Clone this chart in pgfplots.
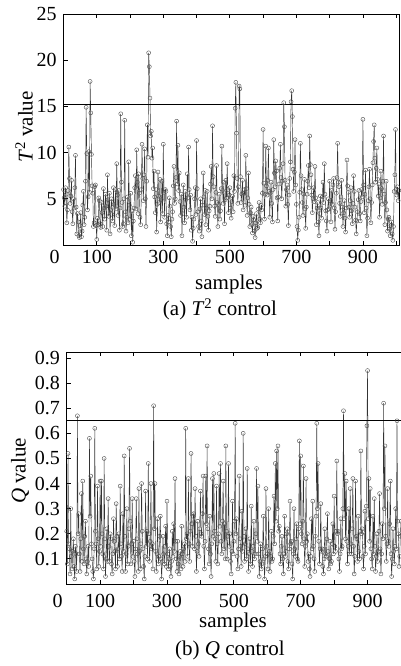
\documentclass[border=0pt]{standalone}
\usepackage{fontspec}
\setmainfont{Liberation Serif}
\usepackage{graphicx}
\usepackage{pgfplots}
\pgfplotsset{compat=1.18}
\begin{document}
\fontsize{20}{24}\selectfont
\begin{tikzpicture}
\useasboundingbox (0,0) rectangle (400pt,666pt);
\pgfplotsset{
  every axis/.append style={
    scale only axis,
    font=\fontsize{20}{24}\selectfont,
    /pgf/number format/assume math mode=true,
    axis line style={line width=0.8pt},
    tick align=inside,
    major tick length=4pt,
    tick style={line width=0.8pt, black},
    xtick pos=both, ytick pos=left,
    clip=true,
  },
  datastyle/.style={black!80, line width=0.45pt, mark=o, mark size=2pt,
    mark options={black!70, line width=0.4pt, solid}},
}
% ---------- (a) T^2 ----------
\begin{axis}[at={(63.5pt,421pt)}, anchor=south west,
  width=336pt, height=231pt,
  xmin=0, xmax=1010, ymin=0, ymax=25,
  ytick={5,10,15,20,25}, yticklabels={5,10,15,20,25},
  xtick={0,100,...,1000},
  xticklabels={\makebox[0pt][r]{0\hspace{4pt}},100,,300,,500,,700,,900,},
  xticklabel style={yshift=2pt},
]
\addplot[datastyle] coordinates {
(0,6.0)(2,5.1)(4,4.2)(6,6.2)(8,5.5)(10,2.4)(12,3.8)(14,5.9)(16,10.6)(18,7.2)(20,4.5)(22,5.3)(24,7.0)(26,3.6)(28,2.3)(30,5.0)(32,4.0)(34,6.2)(36,9.7)(38,4.1)(40,1.2)(42,3.4)(44,2.5)(46,1.0)(48,0.8)(50,2.1)(52,3.5)(54,0.9)(56,1.5)(58,4.3)(60,5.8)(62,2.2)(64,3.0)(66,6.9)(68,14.9)(70,9.9)(72,3.8)(74,5.2)(76,10.1)(78,5.7)(80,17.7)(82,14.3)(84,9.8)(86,6.4)(88,5.6)(90,2.0)(92,2.4)(94,6.3)(96,6.5)(98,2.1)
(100,0.6)(102,2.9)(104,2.2)(106,5.1)(108,4.8)(110,2.3)(112,1.9)(114,4.6)(116,3.5)(118,2.0)(120,6.1)(122,4.0)(124,2.8)(126,5.5)(128,4.2)(130,1.6)(132,7.6)(134,4.9)(136,3.1)(138,5.6)(140,1.2)(142,3.8)(144,5.0)(146,3.3)(148,2.6)(150,6.2)(152,4.4)(154,2.1)(156,6.0)(158,3.9)(160,8.8)(162,5.4)(164,3.2)(166,5.9)(168,1.6)(170,4.0)(172,14.2)(174,6.8)(176,4.6)(178,2.0)(180,2.3)(182,5.0)(184,13.5)(186,3.6)(188,1.5)(190,3.0)(192,5.2)(194,2.4)(196,9.0)(198,4.3)
(200,2.8)(202,5.6)(204,1.0)(206,3.7)(208,0.3)(210,2.6)(212,4.0)(214,6.2)(216,7.5)(218,3.9)(220,10.3)(222,6.8)(224,3.4)(226,7.7)(228,5.6)(230,3.0)(232,2.2)(234,6.0)(236,10.9)(238,7.2)(240,4.8)(242,7.6)(244,10.4)(246,5.0)(248,2.0)(250,6.9)(252,13.0)(254,9.5)(256,20.8)(258,19.3)(260,15.9)(262,11.8)(264,12.3)(266,9.4)(268,10.5)(270,6.1)(272,8.0)(274,5.2)(276,3.5)(278,6.0)(280,1.4)(282,4.4)(284,7.9)(286,5.3)(288,4.6)(290,7.1)(292,2.5)(294,4.9)(296,6.9)(298,3.4)
(300,10.9)(302,5.7)(304,3.0)(306,6.0)(308,5.8)(310,2.3)(312,1.0)(314,3.2)(316,2.5)(318,5.1)(320,4.2)(322,2.0)(324,0.9)(326,2.8)(328,3.6)(330,6.4)(332,8.5)(334,4.5)(336,5.0)(338,7.3)(340,13.4)(342,6.6)(344,10.8)(346,5.9)(348,7.8)(350,4.7)(352,3.2)(354,5.5)(356,1.0)(358,3.4)(360,6.5)(362,4.1)(364,2.4)(366,5.8)(368,4.9)(370,3.0)(372,7.7)(374,5.1)(376,10.6)(378,6.0)(380,3.8)(382,5.4)(384,1.6)(386,3.0)(388,0.4)(390,1.8)(392,2.8)(394,5.0)(396,6.2)(398,3.3)
(400,11.3)(402,6.1)(404,3.6)(406,2.0)(408,1.5)(410,3.9)(412,5.0)(414,2.6)(416,0.9)(418,4.3)(420,7.8)(422,5.2)(424,3.3)(426,5.9)(428,2.2)(430,4.0)(432,5.8)(434,3.1)(436,1.6)(438,3.7)(440,4.2)(442,6.6)(444,8.5)(446,5.0)(448,12.9)(450,7.4)(452,6.3)(454,4.2)(456,3.1)(458,5.7)(460,8.6)(462,4.6)(464,2.0)(466,4.4)(468,5.5)(470,2.8)(472,3.7)(474,6.1)(476,10.7)(478,5.9)(480,4.5)(482,6.8)(484,2.3)(486,4.9)(488,7.0)(490,5.1)(492,8.8)(494,6.0)(496,3.5)(498,5.4)
(500,6.2)(502,4.0)(504,2.9)(506,4.7)(508,5.3)(510,3.6)(512,7.5)(514,5.8)(516,14.8)(518,17.6)(520,12.1)(522,7.2)(524,4.5)(526,6.3)(528,17.2)(530,16.9)(532,7.4)(534,4.6)(536,5.5)(538,7.0)(540,3.8)(542,5.6)(544,6.0)(546,4.3)(548,9.7)(550,6.1)(552,3.2)(554,5.1)(556,7.8)(558,4.4)(560,2.0)(562,3.5)(564,4.1)(566,2.2)(568,1.3)(570,3.1)(572,2.7)(574,1.5)(576,0.8)(578,2.4)(580,3.4)(582,1.8)(584,1.9)(586,3.9)(588,4.6)(590,2.8)(592,2.4)(594,4.3)(596,3.8)(598,5.6)
(600,12.5)(602,6.7)(604,2.8)(606,5.5)(608,10.7)(610,6.4)(612,5.4)(614,7.0)(616,10.5)(618,5.8)(620,3.0)(622,5.6)(624,6.8)(626,4.5)(628,2.5)(630,6.0)(632,11.4)(634,7.8)(636,6.3)(638,9.1)(640,8.0)(642,5.1)(644,2.6)(646,5.2)(648,6.6)(650,8.3)(652,10.9)(654,7.3)(656,5.0)(658,6.9)(660,8.8)(662,15.4)(664,12.8)(666,7.0)(668,4.2)(670,6.0)(672,6.5)(674,4.4)(676,2.1)(678,5.4)(680,7.2)(682,9.0)(684,15.5)(686,16.7)(688,13.9)(690,8.2)(692,5.8)(694,7.9)(696,11.4)(698,6.5)
(700,4.4)(702,2.0)(704,0.5)(706,1.6)(708,3.0)(710,5.7)(712,11.0)(714,7.5)(716,6.0)(718,4.6)(720,3.2)(722,5.5)(724,7.1)(726,3.9)(728,1.8)(730,4.1)(732,5.5)(734,6.9)(736,8.6)(738,6.2)(740,11.8)(742,8.7)(744,7.6)(746,5.4)(748,3.5)(750,5.0)(752,6.2)(754,4.7)(756,8.5)(758,5.1)(760,2.2)(762,4.0)(764,4.6)(766,2.5)(768,1.0)(770,3.4)(772,5.3)(774,4.0)(776,2.9)(778,5.2)(780,6.8)(782,4.6)(784,8.8)(786,5.5)(788,3.7)(790,2.6)(792,1.5)(794,3.8)(796,5.0)(798,3.9)
(800,6.9)(802,4.8)(804,2.5)(806,5.9)(808,4.4)(810,6.5)(812,7.2)(814,4.0)(816,1.7)(818,3.6)(820,5.6)(822,7.3)(824,11.0)(826,6.8)(828,6.3)(830,4.5)(832,3.1)(834,5.2)(836,7.0)(838,4.1)(840,2.0)(842,3.5)(844,4.8)(846,2.9)(848,1.4)(850,4.0)(852,9.2)(854,6.4)(856,5.7)(858,4.1)(860,3.0)(862,4.8)(864,6.2)(866,3.7)(868,2.3)(870,4.5)(872,7.5)(874,5.8)(876,4.1)(878,2.7)(880,1.2)(882,2.6)(884,3.6)(886,4.9)(888,5.9)(890,3.4)(892,2.6)(894,4.7)(896,6.0)(898,5.2)
(900,13.6)(902,6.5)(904,3.5)(906,5.5)(908,8.1)(910,4.0)(912,1.0)(914,2.9)(916,4.8)(918,6.3)(920,8.2)(922,5.0)(924,2.4)(926,4.6)(928,6.5)(930,8.9)(932,11.2)(934,13.0)(936,9.4)(938,6.8)(940,8.3)(942,10.5)(944,7.1)(946,5.3)(948,6.6)(950,3.0)(952,5.1)(954,8.0)(956,6.1)(958,4.4)(960,6.9)(962,11.8)(964,5.5)(966,2.2)(968,4.6)(970,6.9)(972,3.8)(974,1.5)(976,2.8)(978,3.0)(980,1.7)(982,1.0)(984,2.1)(986,2.5)(988,1.2)(990,0.5)(992,2.0)(994,5.8)(996,7.6)(998,12.5)(1000,6.0)(1002,5.4)(1004,6.3)(1006,4.8)(1008,5.9)
};
\addplot[black, line width=0.8pt] coordinates {(0,15.25)(1010,15.25)};
\end{axis}
% ---------- (b) Q ----------
\begin{axis}[at={(66.7pt,82pt)}, anchor=south west,
  width=334.3pt, height=232pt,
  xmin=0, xmax=1000, ymin=0, ymax=0.924,
  ytick={0.1,0.2,0.3,0.4,0.5,0.6,0.7,0.8,0.9},
  yticklabels={0.1,0.2,0.3,0.4,0.5,0.6,0.7,0.8,0.9},
  xtick={0,100,...,1000},
  xticklabels={\makebox[0pt][r]{0\hspace{4pt}},100,,300,,500,,700,,900,},
  xticklabel style={yshift=-3pt},
]
\addplot[datastyle] coordinates {
(0,0.21)(2,0.08)(4,0.52)(6,0.16)(8,0.14)(10,0.04)(12,0.30)(14,0.11)(16,0.06)(18,0.13)(20,0.18)(22,0.07)(24,0.02)(26,0.15)(28,0.12)(30,0.05)(32,0.67)(34,0.20)(36,0.28)(38,0.12)(40,0.05)(42,0.18)(44,0.36)(46,0.09)(48,0.41)(50,0.14)(52,0.08)(54,0.19)(56,0.25)(58,0.10)(60,0.04)(62,0.09)(64,0.15)(66,0.07)(68,0.58)(70,0.27)(72,0.43)(74,0.16)(76,0.10)(78,0.05)(80,0.02)(82,0.14)(84,0.62)(86,0.21)(88,0.16)(90,0.06)(92,0.39)(94,0.18)(96,0.07)(98,0.13)
(100,0.41)(102,0.15)(104,0.41)(106,0.20)(108,0.12)(110,0.06)(112,0.50)(114,0.18)(116,0.03)(118,0.10)(120,0.22)(122,0.09)(124,0.34)(126,0.15)(128,0.09)(130,0.20)(132,0.18)(134,0.08)(136,0.04)(138,0.12)(140,0.26)(142,0.17)(144,0.13)(146,0.06)(148,0.32)(150,0.19)(152,0.07)(154,0.14)(156,0.20)(158,0.10)(160,0.39)(162,0.16)(164,0.11)(166,0.05)(168,0.28)(170,0.13)(172,0.51)(174,0.19)(176,0.05)(178,0.12)(180,0.30)(182,0.08)(184,0.15)(186,0.22)(188,0.54)(190,0.25)(192,0.08)(194,0.16)(196,0.34)(198,0.11)
(200,0.17)(202,0.09)(204,0.03)(206,0.14)(208,0.34)(210,0.18)(212,0.12)(214,0.05)(216,0.38)(218,0.13)(220,0.06)(222,0.16)(224,0.40)(226,0.21)(228,0.14)(230,0.07)(232,0.02)(234,0.11)(236,0.37)(238,0.15)(240,0.21)(242,0.10)(244,0.48)(246,0.20)(248,0.09)(250,0.17)(252,0.40)(254,0.14)(256,0.16)(258,0.06)(260,0.71)(262,0.22)(264,0.40)(266,0.13)(268,0.05)(270,0.12)(272,0.26)(274,0.08)(276,0.11)(278,0.19)(280,0.27)(282,0.10)(284,0.02)(286,0.09)(288,0.19)(290,0.12)(292,0.08)(294,0.15)(296,0.23)(298,0.07)
(300,0.33)(302,0.12)(304,0.06)(306,0.10)(308,0.14)(310,0.07)(312,0.03)(314,0.09)(316,0.21)(318,0.11)(320,0.24)(322,0.13)(324,0.42)(326,0.17)(328,0.10)(330,0.05)(332,0.17)(334,0.08)(336,0.04)(338,0.11)(340,0.13)(342,0.06)(344,0.23)(346,0.12)(348,0.07)(350,0.14)(352,0.16)(354,0.09)(356,0.62)(358,0.18)(360,0.20)(362,0.11)(364,0.42)(366,0.16)(368,0.09)(370,0.21)(372,0.52)(374,0.24)(376,0.15)(378,0.27)(380,0.28)(382,0.14)(384,0.38)(386,0.19)(388,0.05)(390,0.13)(392,0.25)(394,0.16)(396,0.11)(398,0.22)
(400,0.37)(402,0.20)(404,0.19)(406,0.28)(408,0.43)(410,0.15)(412,0.06)(414,0.17)(416,0.43)(418,0.24)(420,0.55)(422,0.22)(424,0.14)(426,0.08)(428,0.27)(430,0.12)(432,0.03)(434,0.16)(436,0.42)(438,0.19)(440,0.44)(442,0.21)(444,0.18)(446,0.09)(448,0.39)(450,0.16)(452,0.08)(454,0.20)(456,0.44)(458,0.23)(460,0.48)(462,0.17)(464,0.12)(466,0.25)(468,0.41)(470,0.14)(472,0.24)(474,0.10)(476,0.55)(478,0.21)(480,0.10)(482,0.19)(484,0.48)(486,0.15)(488,0.20)(490,0.09)(492,0.04)(494,0.13)(496,0.33)(498,0.12)
(500,0.17)(502,0.25)(504,0.64)(506,0.20)(508,0.26)(510,0.11)(512,0.06)(514,0.14)(516,0.43)(518,0.18)(520,0.15)(522,0.07)(524,0.29)(526,0.13)(528,0.60)(530,0.19)(532,0.09)(534,0.16)(536,0.22)(538,0.10)(540,0.46)(542,0.14)(544,0.05)(546,0.12)(548,0.18)(550,0.08)(552,0.31)(554,0.13)(556,0.07)(558,0.15)(560,0.25)(562,0.10)(564,0.12)(566,0.20)(568,0.46)(570,0.17)(572,0.39)(574,0.12)(576,0.03)(578,0.09)(580,0.16)(582,0.06)(584,0.08)(586,0.14)(588,0.27)(590,0.10)(592,0.02)(594,0.11)(596,0.38)(598,0.15)
(600,0.12)(602,0.06)(604,0.30)(606,0.13)(608,0.05)(610,0.11)(612,0.21)(614,0.09)(616,0.10)(618,0.19)(620,0.35)(622,0.16)(624,0.48)(626,0.25)(628,0.53)(630,0.30)(632,0.55)(634,0.21)(636,0.23)(638,0.12)(640,0.08)(642,0.15)(644,0.19)(646,0.10)(648,0.04)(650,0.12)(652,0.27)(654,0.11)(656,0.13)(658,0.20)(660,0.22)(662,0.09)(664,0.06)(666,0.14)(668,0.33)(670,0.16)(672,0.17)(674,0.08)(676,0.02)(678,0.12)(680,0.30)(682,0.14)(684,0.11)(686,0.18)(688,0.24)(690,0.10)(692,0.09)(694,0.22)(696,0.57)(698,0.24)
(700,0.51)(702,0.20)(704,0.16)(706,0.25)(708,0.47)(710,0.18)(712,0.07)(714,0.15)(716,0.42)(718,0.17)(720,0.20)(722,0.09)(724,0.12)(726,0.06)(728,0.03)(730,0.11)(732,0.26)(734,0.14)(736,0.33)(738,0.15)(740,0.10)(742,0.05)(744,0.19)(746,0.27)(748,0.64)(750,0.30)(752,0.48)(754,0.17)(756,0.08)(758,0.14)(760,0.32)(762,0.13)(764,0.14)(766,0.07)(768,0.04)(770,0.10)(772,0.22)(774,0.12)(776,0.11)(778,0.18)(780,0.28)(782,0.13)(784,0.06)(786,0.10)(788,0.17)(790,0.08)(792,0.09)(794,0.16)(796,0.24)(798,0.12)
(800,0.35)(802,0.15)(804,0.13)(806,0.21)(808,0.49)(810,0.20)(812,0.21)(814,0.10)(816,0.05)(818,0.12)(820,0.26)(822,0.14)(824,0.15)(826,0.30)(828,0.69)(830,0.26)(832,0.44)(834,0.18)(836,0.41)(838,0.17)(840,0.08)(842,0.15)(844,0.30)(846,0.12)(848,0.38)(850,0.16)(852,0.12)(854,0.22)(856,0.42)(858,0.15)(860,0.04)(862,0.11)(864,0.41)(866,0.19)(868,0.18)(870,0.09)(872,0.27)(874,0.13)(876,0.10)(878,0.21)(880,0.53)(882,0.20)(884,0.22)(886,0.11)(888,0.06)(890,0.15)(892,0.29)(894,0.12)(896,0.31)(898,0.63)
(900,0.85)(902,0.26)(904,0.42)(906,0.17)(908,0.38)(910,0.14)(912,0.10)(914,0.06)(916,0.27)(918,0.12)(920,0.34)(922,0.15)(924,0.05)(926,0.11)(928,0.20)(930,0.09)(932,0.13)(934,0.21)(936,0.36)(938,0.14)(940,0.04)(942,0.12)(944,0.24)(946,0.18)(948,0.72)(950,0.30)(952,0.55)(954,0.19)(956,0.09)(958,0.16)(960,0.38)(962,0.17)(964,0.15)(966,0.24)(968,0.41)(970,0.12)(972,0.03)(974,0.10)(976,0.22)(978,0.13)(980,0.08)(982,0.15)(984,0.30)(986,0.14)(988,0.65)(990,0.25)(992,0.20)(994,0.07)(996,0.11)(998,0.19)(1000,0.25)
};
\addplot[black, line width=0.8pt] coordinates {(0,0.652)(1000,0.652)};
\end{axis}
% ---------- labels ----------
\node[rotate=90, anchor=center, font=\fontsize{21}{24}\selectfont] at (24pt,539pt) {\textit{T}\textsuperscript{2} value};
\node[anchor=base, font=\fontsize{21}{24}\selectfont] at (229pt,376pt) {samples};
\node[anchor=base, font=\fontsize{21}{24}\selectfont] at (220pt,350pt) {(a) \textit{T}\textsuperscript{2} control};
\node[rotate=90, anchor=center, font=\fontsize{21}{24}\selectfont] at (20pt,195pt) {\textit{Q} value};
\node[anchor=base, font=\fontsize{21}{24}\selectfont] at (233pt,38pt) {samples};
\node[anchor=base, font=\fontsize{21}{24}\selectfont] at (230pt,10pt) {(b) \textit{Q} control};
\end{tikzpicture}
\end{document}
